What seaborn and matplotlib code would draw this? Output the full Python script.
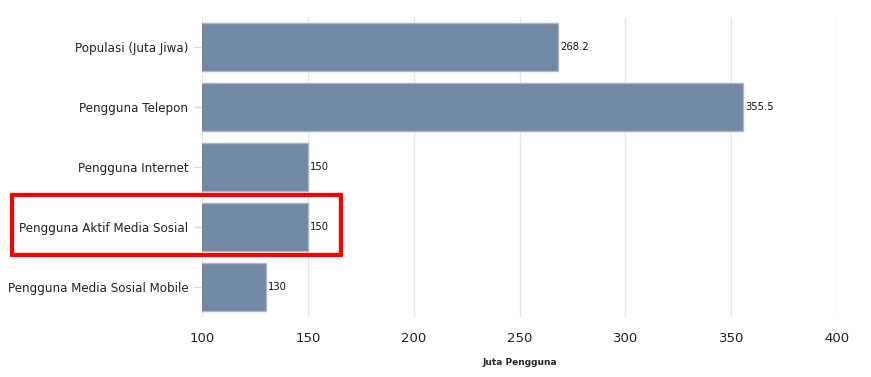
import pandas as pd
import seaborn as sns
import matplotlib.pyplot as plt
import matplotlib.transforms as mtransforms
from matplotlib.patches import Rectangle

# Data
categories = ['Populasi (Juta Jiwa)', 'Pengguna Telepon', 'Pengguna Internet',
              'Pengguna Aktif Media Sosial', 'Pengguna Media Sosial Mobile']
values = [268.2, 355.5, 150, 150, 130]
value_labels = ['268.2', '355.5', '150', '150', '130']
x_ticks = [100, 150, 200, 250, 300, 350, 400]

df = pd.DataFrame({'kategori': categories, 'nilai': values})

sns.set_style('white')
plt.rcParams['font.family'] = ['DejaVu Sans']

fig = plt.figure(figsize=(8.71, 3.77), dpi=100)
ax = fig.add_axes([0.232, 0.159, 0.729, 0.796])

sns.barplot(data=df, x='nilai', y='kategori', color='#7189a4', saturation=1,
            width=0.8, edgecolor='#a9b6c6', linewidth=1, ax=ax, zorder=2)

ax.bar_label(ax.containers[0], labels=value_labels, padding=1.5, fontsize=7.2, color='#111111')

ax.set_xlim(100, 400)
ax.set_xticks(x_ticks)
ax.set_xticklabels([str(t) for t in x_ticks], fontsize=9.5, color='#222222')
ax.grid(axis='x', color='#e6e6e6', linewidth=1, zorder=0)
ax.set_axisbelow(True)
for s in ax.spines.values():
    s.set_visible(False)

ax.tick_params(axis='x', length=0, pad=11)
ax.tick_params(axis='y', left=True, length=6, color='#dcdcdc', width=1, pad=4,
               labelsize=8.6, labelcolor='#222222')

ax.set_ylabel('')
ax.set_xlabel('Juta Pengguna', fontsize=6.5, fontweight='bold', labelpad=9)

# highlight box
trans = mtransforms.blended_transform_factory(fig.transFigure, ax.transData)
box = Rectangle((0.0138, 2.47), 0.378, 0.99, transform=trans, fill=False,
                edgecolor='#ff0000', linewidth=3, clip_on=False, zorder=5)
fig.add_artist(box)

fig.savefig('out.png', dpi=100)
